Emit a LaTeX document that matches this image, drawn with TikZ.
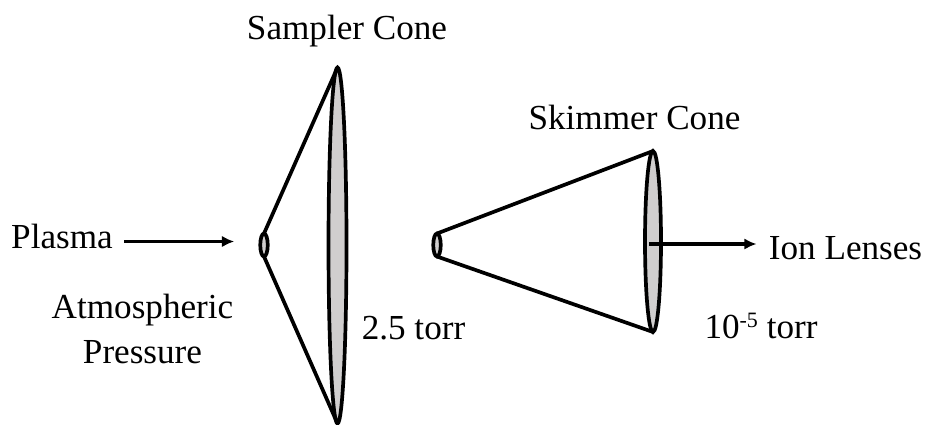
\documentclass[tikz,border=0pt]{standalone}
\usepackage{fontspec}
\setmainfont{Liberation Serif}
\usetikzlibrary{positioning, arrows.meta, shapes.geometric}

\begin{document}
\begin{tikzpicture}[x=0.02cm, y=-0.02cm]
	\tikzset{
		cone/.style={ellipse, draw=black, line width=2.1pt, fill=coneGray, inner sep=0pt, outer sep=0pt},
		label/.style={inner sep=0pt, font=\fontsize{20}{23}\selectfont, align=center},
		with tip/.style={line width=1.9pt, -{Latex[length=7pt, width=6.5pt]}},
		side/.style={line width=2.1pt}
	}
	\definecolor{coneGray}{HTML}{D0CECE}
	\useasboundingbox (0,0) rectangle (925,424);
	\begin{scope}
		\clip (0,0) rectangle (925,424);
		\node[cone, minimum width=0.36cm, minimum height=7.12cm] (samplerBase) at (337.5, 245.5) {};
		\node[cone, minimum width=0.15cm, minimum height=0.46cm] (samplerTip) at (264, 245) {};
		\draw[side] (samplerTip.north) -- (samplerBase.north);
		\draw[side] (samplerTip.south) -- (samplerBase.south);
	\end{scope}
	\node[cone, minimum width=0.32cm, minimum height=3.62cm] (skimmerBase) at (653, 241.5) {};
	\node[cone, minimum width=0.15cm, minimum height=0.46cm] (skimmerTip) at (437, 245) {};
	\draw[side] (skimmerTip.north) -- (skimmerBase.north);
	\draw[side] (skimmerTip.south) -- (skimmerBase.south);

	\node[label] (sampler) at (347, 31) {Sampler Cone};
	\node[label] (skimmer) at (634.5, 117) {Skimmer Cone};
	\node[label] (plasma) at (62, 236) {Plasma};
	\node[label] (ions) at (845.5, 248) {Ion Lenses};
	\node[label] (atm) at (142.5, 329) {Atmospheric\\[3pt]Pressure};
	\node[label] (sampP) at (413.5, 328) {2.5 torr};
	\node[label] (skimP) at (761, 326) {10\raisebox{6.5pt}{\fontsize{12.5}{14}\selectfont -5} torr};

	\draw[with tip, shorten >=26*0.02cm] (plasma.east |- 0,241.5) ++(11,0) coordinate (plasmaEnd) -- (samplerTip.west |- plasmaEnd);
	\draw[with tip, shorten >=12*0.02cm] (skimmerBase.center |- 0,244) ++(-4,0) coordinate (ionStart) -- (ions.west |- ionStart);
\end{tikzpicture}
\end{document}
